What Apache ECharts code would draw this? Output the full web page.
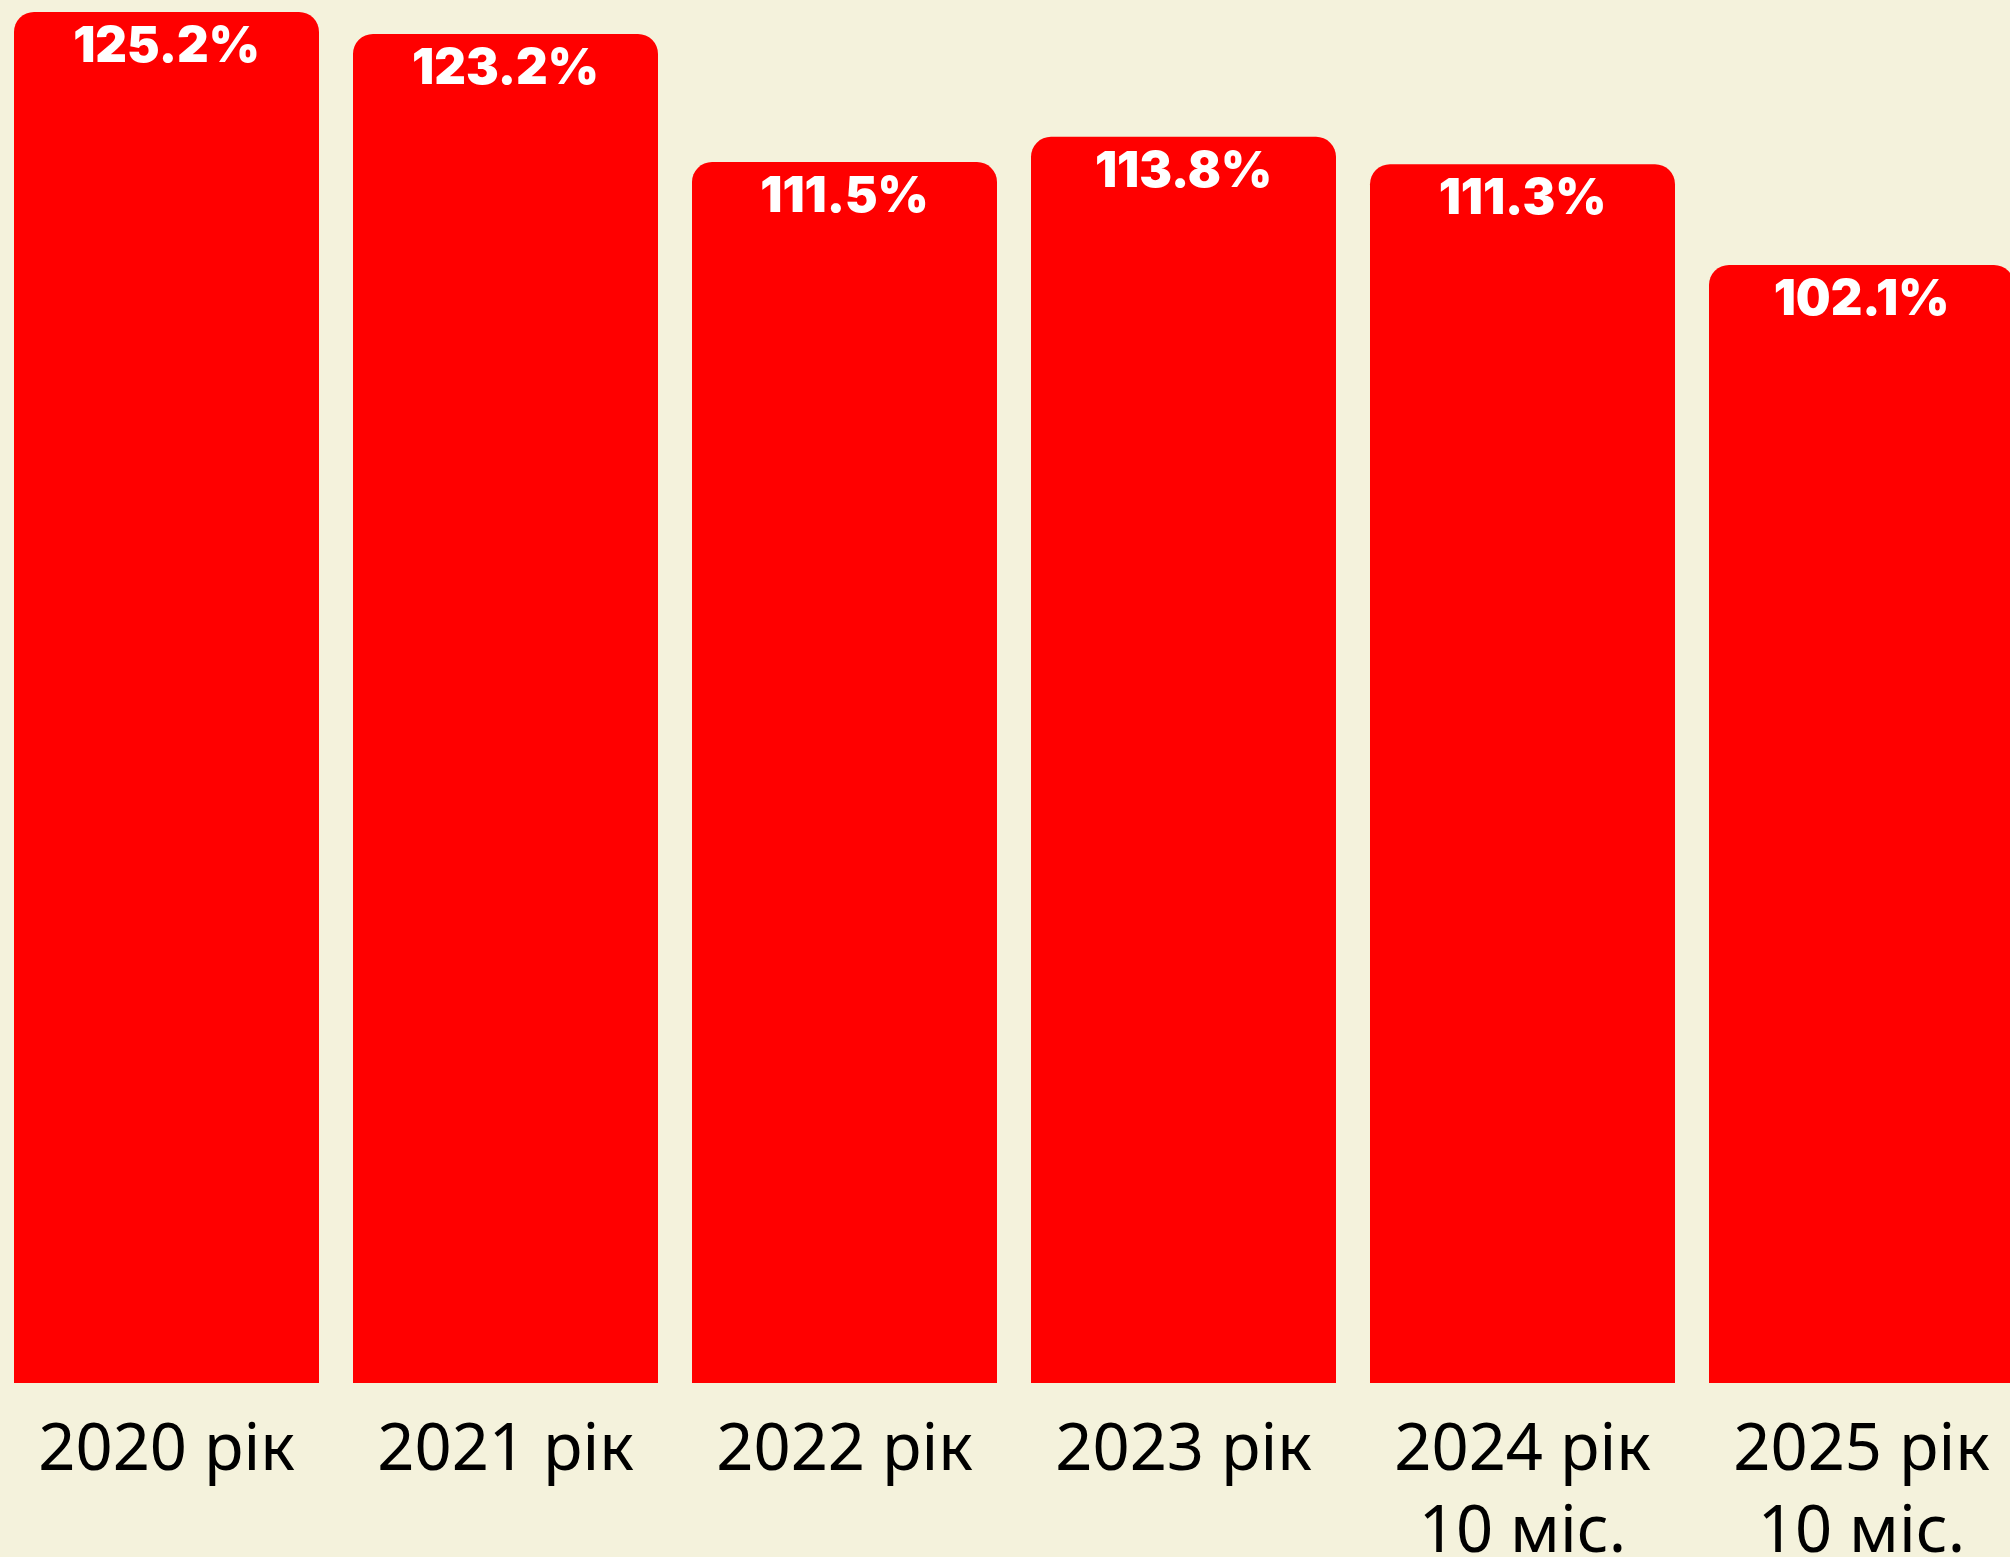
<!DOCTYPE html>
<html>
<head>
<meta charset="utf-8">
<script src="https://cdn.jsdelivr.net/npm/echarts@6/dist/echarts.min.js"></script>
<style>
  html, body { margin: 0; padding: 0; background: #f4f2dc; }
  #chart { width: 2010px; height: 1557px; }
</style>
</head>
<body>
<div id="chart"></div>
<script>
// categories and values (index of consumer prices, % to previous period)
const categories = ['2020 рік', '2021 рік', '2022 рік', '2023 рік', '2024 рік\n10 міс.', '2025 рік\n10 міс.'];
const values = [125.2, 123.2, 111.5, 113.8, 111.3, 102.1];

const myChart = echarts.init(document.getElementById('chart'));

const option = {
  backgroundColor: '#f4f2dc',
  animation: false,
  grid: {
    left: -3,
    top: 12,
    width: 2034,
    bottom: 174,
    containLabel: false,
    outerBoundsMode: 'none'
  },
  xAxis: {
    type: 'category',
    data: categories,
    axisLine: { show: false },
    axisTick: { show: false },
    axisLabel: {
      color: '#000',
      fontFamily: 'Noto Sans',
      fontSize: 65,
      lineHeight: 82,
      margin: 27,
      interval: 0,
      hideOverlap: false
    }
  },
  yAxis: {
    type: 'value',
    min: 0,
    max: Math.max(...values),
    show: false,
    splitLine: { show: false }
  },
  series: [{
    type: 'bar',
    data: values,
    barWidth: 305,
    itemStyle: {
      color: '#ff0000',
      borderRadius: [20, 20, 0, 0]
    },
    label: {
      show: true,
      position: 'insideTop',
      distance: 11,
      color: '#fff',
      fontFamily: 'Inter',
      fontWeight: 900,
      fontSize: 49,
      formatter: p => p.value.toFixed(1) + '%'
    }
  }]
};

myChart.setOption(option);
</script>
</body>
</html>
